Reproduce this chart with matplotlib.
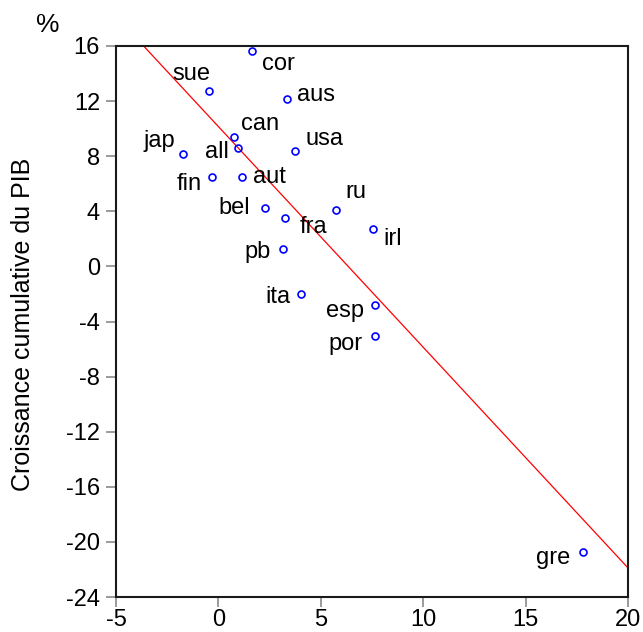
import numpy as np
import matplotlib
matplotlib.use("Agg")
import matplotlib.pyplot as plt

# DATA

countries = ["cor", "sue", "aus", "can", "all", "jap", "usa", "fin", "aut",
             "bel", "fra", "ru", "irl", "pb", "ita", "esp", "por", "gre"]
x_vals = [1.66, -0.44, 3.36, 0.78, 0.97, -1.73, 3.75, -0.31, 1.17,
          2.26, 3.27, 5.74, 7.55, 3.14, 4.05, 7.63, 7.63, 17.82]
gdp_growth = [15.64, 12.73, 12.15, 9.42, 8.57, 8.16, 8.38, 6.49, 6.49,
              4.26, 3.54, 4.10, 2.72, 1.26, -2.03, -2.82, -5.05, -20.71]
x_ticks = [-5, 0, 5, 10, 15, 20]
y_ticks = [16, 12, 8, 4, 0, -4, -8, -12, -16, -20, -24]

# label placement: (dx px, dy px to baseline, alignment)
label_pos = {
    "cor": (10, -19, "left"), "sue": (1, 11, "right"), "aus": (10, -2, "left"),
    "can": (7, 7, "left"), "all": (-9, -10, "right"), "jap": (-8, 7, "right"),
    "usa": (10, 6, "left"), "fin": (-10, -13, "right"), "aut": (11, -6, "left"),
    "bel": (-15, -6, "right"), "fra": (14, -15, "left"), "ru": (9, 12, "left"),
    "irl": (10, -16, "left"), "pb": (-12, -9, "right"), "ita": (-11, -9, "right"),
    "esp": (-11, -12, "right"), "por": (-12, -14, "right"), "gre": (-13, -12, "right"),
}

plt.rcParams['font.family'] = ['Liberation Sans', 'DejaVu Sans']
plt.rcParams['axes.unicode_minus'] = False
fs = 17

fig = plt.figure(figsize=(6.43, 6.32), dpi=100)
ax = fig.add_axes([116 / 643, 1 - 597 / 632, 512 / 643, 551 / 632])

# regression line
slope, intercept = np.polyfit(x_vals, gdp_growth, 1)
xl = np.array([-5, 20])
ax.plot(xl, intercept + slope * xl, color="red", lw=0.9, zorder=2)

ax.plot(x_vals, gdp_growth, linestyle="none", marker="o", markersize=5,
        markerfacecolor="none", markeredgecolor="blue", markeredgewidth=1.2, zorder=3)

for name, xv, yv in zip(countries, x_vals, gdp_growth):
    dx, dy, ha = label_pos[name]
    ax.annotate(name, (xv, yv), xytext=(dx, dy), textcoords="offset pixels",
                ha=ha, va="baseline", fontsize=fs, color="black")

ax.set_xlim(-5, 20)
ax.set_ylim(-24, 16)
ax.set_xticks(x_ticks)
ax.set_yticks(y_ticks)
ax.tick_params(axis="both", direction="out", length=7.5, width=1.1,
               color="#808080", labelsize=fs, labelcolor="black")
ax.tick_params(axis="y", pad=4)
ax.tick_params(axis="x", pad=1.5)
for sp in ax.spines.values():
    sp.set_linewidth(1.5)
    sp.set_color("#1a1a1a")

fig.text(23 / 643, 1 - 324 / 632, "Croissance cumulative du PIB", fontsize=18,
         rotation=90, ha="center", va="center")
fig.text(48 / 643, 1 - 25 / 632, "%", fontsize=19, ha="center", va="center")

fig.savefig("out.png", dpi=100)
